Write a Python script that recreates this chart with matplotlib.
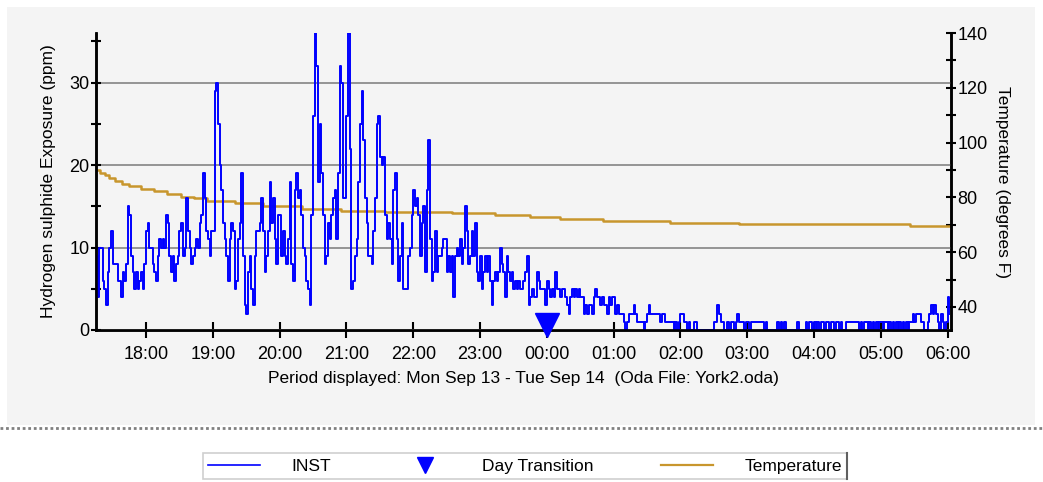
import matplotlib
matplotlib.use('Agg')
import matplotlib.pyplot as plt
import matplotlib.dates as mdates
from matplotlib.lines import Line2D
from matplotlib.patches import Rectangle
import pandas as pd

plt.rcParams['font.family'] = ['Liberation Sans', 'DejaVu Sans']

# INST readings (ppm), one every 90 s starting Mon Sep 13 17:15
inst_ppm = [
    9, 4, 10, 10, 6, 5, 3, 7, 10, 12, 8, 8, 8, 6, 6, 4, 7, 6, 8, 15,
    14, 9, 7, 5, 7, 5, 6, 7, 5, 8, 12, 13, 10, 10, 8, 7, 6, 9, 11, 10,
    11, 10, 14, 13, 9, 7, 9, 6, 8, 9, 12, 13, 9, 10, 16, 12, 10, 8, 9, 10,
    11, 10, 13, 14, 19, 16, 12, 11, 9, 12, 12, 29, 30, 25, 20, 17, 13, 11, 9, 6,
    11, 13, 12, 5, 6, 11, 13,
    19, 9, 3, 2, 7, 9, 5, 3, 9, 12, 12, 13, 16, 12, 7, 9, 12, 18, 13, 16,
    11, 8, 14, 14, 9, 12, 9, 8, 11, 18, 8, 6, 17, 19, 16, 17, 14, 10, 9, 6,
    5, 3, 14, 26, 36, 32, 18, 25, 19, 14, 8, 9, 13, 11, 14, 16, 17, 11, 19, 32,
    30, 16, 16, 26, 36, 22, 5, 6, 9, 11, 18, 25, 29, 23, 16, 13, 9, 9, 8, 12,
    16, 25, 26, 21, 20, 21,
    14, 11, 13, 11, 8, 17, 19, 11, 6, 9, 13, 5, 5, 5, 9, 10, 14, 17, 15, 16,
    14, 9, 13, 15, 7, 17, 23, 11, 6, 7, 12, 7, 9, 9, 10, 11, 11, 7, 9, 7,
    9, 4, 9, 10, 9, 11, 8, 10, 15, 12, 8, 9, 12, 9, 13, 7, 6, 9, 5, 7,
    9, 7, 9, 6, 3, 6, 7, 6, 7, 10, 8, 7, 4, 9, 7, 6, 7, 5, 6, 5,
    6, 5, 5, 6, 7, 9,
    3, 4, 5, 4, 4, 7, 6, 5, 5, 5, 3, 6, 5, 4, 5, 4, 7, 5, 5, 4,
    5, 5, 4, 3, 2, 4, 5, 4, 5, 4, 5, 4, 4, 2, 3, 2, 3, 3, 2, 4,
    5, 4, 4, 3, 4, 3, 3, 2, 4, 3, 4, 4, 2, 3, 2, 2, 2, 1, 0, 1,
    2, 2, 2, 3, 2, 1, 1, 1, 1, 0, 1, 2, 3, 2, 2, 2, 2, 2, 2, 1,
    2, 2, 1, 1, 1, 1,
    1, 0, 1, 0, 1, 2, 2, 1, 1, 0, 1, 0, 0, 1, 1, 0, 0, 0, 0, 0,
    0, 0, 0, 0, 0, 1, 1, 3, 2, 1, 1, 0, 0, 1, 0, 1, 1, 0, 1, 2,
    1, 1, 1, 0, 1, 1, 0, 1, 1, 1, 1, 1, 1, 1, 1, 0, 1, 0, 0, 0,
    0, 0, 0, 1, 0, 1, 0, 1, 0, 0, 0, 0, 0, 0, 0, 1, 0, 0, 0, 0,
    1, 0, 1, 1, 0, 1,
    0, 1, 0, 1, 1, 0, 1, 1, 0, 1, 1, 0, 1, 1, 0, 1, 0, 0, 1, 1,
    1, 1, 1, 1, 1, 1, 0, 1, 0, 1, 1, 0, 1, 0, 1, 0, 1, 0, 1, 1,
    0, 1, 1, 0, 1, 0, 1, 0, 1, 0, 1, 0, 1, 0, 1, 0, 1, 1, 2, 1,
    2, 2, 2, 1, 1, 0, 0, 1, 2, 3, 2, 3, 2, 1, 0, 2, 1, 0, 1, 4,
    2,
]

# temperature steps: minutes after 17:15 and degrees F
temp_minutes = [0, 4, 8, 12, 17, 23, 30, 40, 52, 64, 76, 88, 100, 125, 150,
                185, 220, 260, 320, 358, 390, 417, 455, 516, 578, 731, 768]
temp_degf = [90, 89, 88, 87, 86, 85, 84, 83.2, 82.3, 81.3, 80.3, 79.7, 78.7, 77.8, 76.8,
             75.8, 75.1, 74.6, 74.2, 73.6, 72.8, 72.1, 71.4, 70.8, 70.2, 69.6, 69.6]

start = pd.Timestamp('2004-09-13 17:15')
day_change = pd.Timestamp('2004-09-14 00:00')
x_end = pd.Timestamp('2004-09-14 06:03')

inst_time = pd.date_range(start, periods=len(inst_ppm), freq='90s')
temp_time = [start + pd.Timedelta(minutes=m) for m in temp_minutes]

W, H = 1043, 482
fig = plt.figure(figsize=(W / 100, H / 100), dpi=100)

# grey panel and dotted separator (kept behind the axes)
fig.patches.append(Rectangle((7 / W, 1 - 425 / H), 1028 / W, 418 / H, transform=fig.transFigure,
                             facecolor='#f4f4f4', edgecolor='none', zorder=-10))
fig.lines.append(Line2D([0, 1], [1 - 428 / H] * 2, transform=fig.transFigure,
                        color='#808080', lw=2, linestyle=(0, (1, 1)), zorder=-5))

ax = fig.add_axes([96 / W, 1 - 330 / H, 855 / W, 297 / H])
ax2 = ax.twinx()
ax.set_zorder(ax2.get_zorder() + 1)
ax.patch.set_visible(False)
ax2.patch.set_facecolor('#f4f4f4')

ax2.step(temp_time, temp_degf, where='post', color='#c8962d', lw=1.8)
ax.step(inst_time, inst_ppm, where='post', color='#0000ff', lw=1.4)
ax.plot([day_change], [0.6], marker='v', markersize=17, color='#0000ff',
        linestyle='none', clip_on=False, zorder=5)

ax.set_xlim(start, x_end)
ax.set_ylim(0, 36)
ax2.set_ylim(31.6, 140)

ax.set_yticks([0, 10, 20, 30])
ax.set_yticks([5, 15, 25, 35], minor=True)
ax2.set_yticks([40, 60, 80, 100, 120, 140])
ax2.set_yticks([50, 70, 90, 110, 130], minor=True)
ax.xaxis.set_major_locator(mdates.HourLocator())
ax.xaxis.set_major_formatter(mdates.DateFormatter('%H:%M'))

ax.grid(axis='y', color='#8c8c8c', lw=1.3)
for a in (ax, ax2):
    a.spines['top'].set_visible(False)
    for s in ('left', 'right', 'bottom'):
        a.spines[s].set_linewidth(1.8)
ax.tick_params(axis='y', which='both', direction='inout', length=7, width=1.5, labelsize=13, pad=1)
ax.tick_params(axis='x', direction='inout', length=11, width=1.5, labelsize=13, pad=6)
ax2.tick_params(axis='y', which='both', direction='inout', length=7, width=1.5, labelsize=13, pad=1)

ax.set_ylabel('Hydrogen sulphide Exposure (ppm)', fontsize=12.5, labelpad=10)
ax2.set_ylabel('Temperature (degrees F)', fontsize=12.5, rotation=270, labelpad=16)
ax.set_xlabel('Period displayed: Mon Sep 13 - Tue Sep 14  (Oda File: York2.oda)',
              fontsize=12.5, labelpad=6)

handles = [Line2D([], [], color='#0000ff', lw=1.2),
           Line2D([], [], color='#0000ff', marker='v', markersize=11, linestyle='none'),
           Line2D([], [], color='#c8962d', lw=1.6)]
leg = fig.legend(handles, ['INST', 'Day Transition', 'Temperature'], loc='center',
                 bbox_to_anchor=(525 / W, 1 - 466 / H), ncol=3, fontsize=12.5,
                 frameon=True, fancybox=False, edgecolor='#cfcfcf', framealpha=1,
                 handlelength=3.0, handletextpad=1.8, columnspacing=3.9, borderpad=0.3)
leg.get_frame().set_linewidth(1.2)

# dark shadow on the legend's right edge
fig.canvas.draw()
bb = leg.get_window_extent().transformed(fig.transFigure.inverted())
fig.lines.append(Line2D([bb.x1] * 2, [bb.y0, bb.y1], transform=fig.transFigure,
                        color='#606060', lw=1.5, zorder=10))

fig.savefig('out.png', dpi=100)
